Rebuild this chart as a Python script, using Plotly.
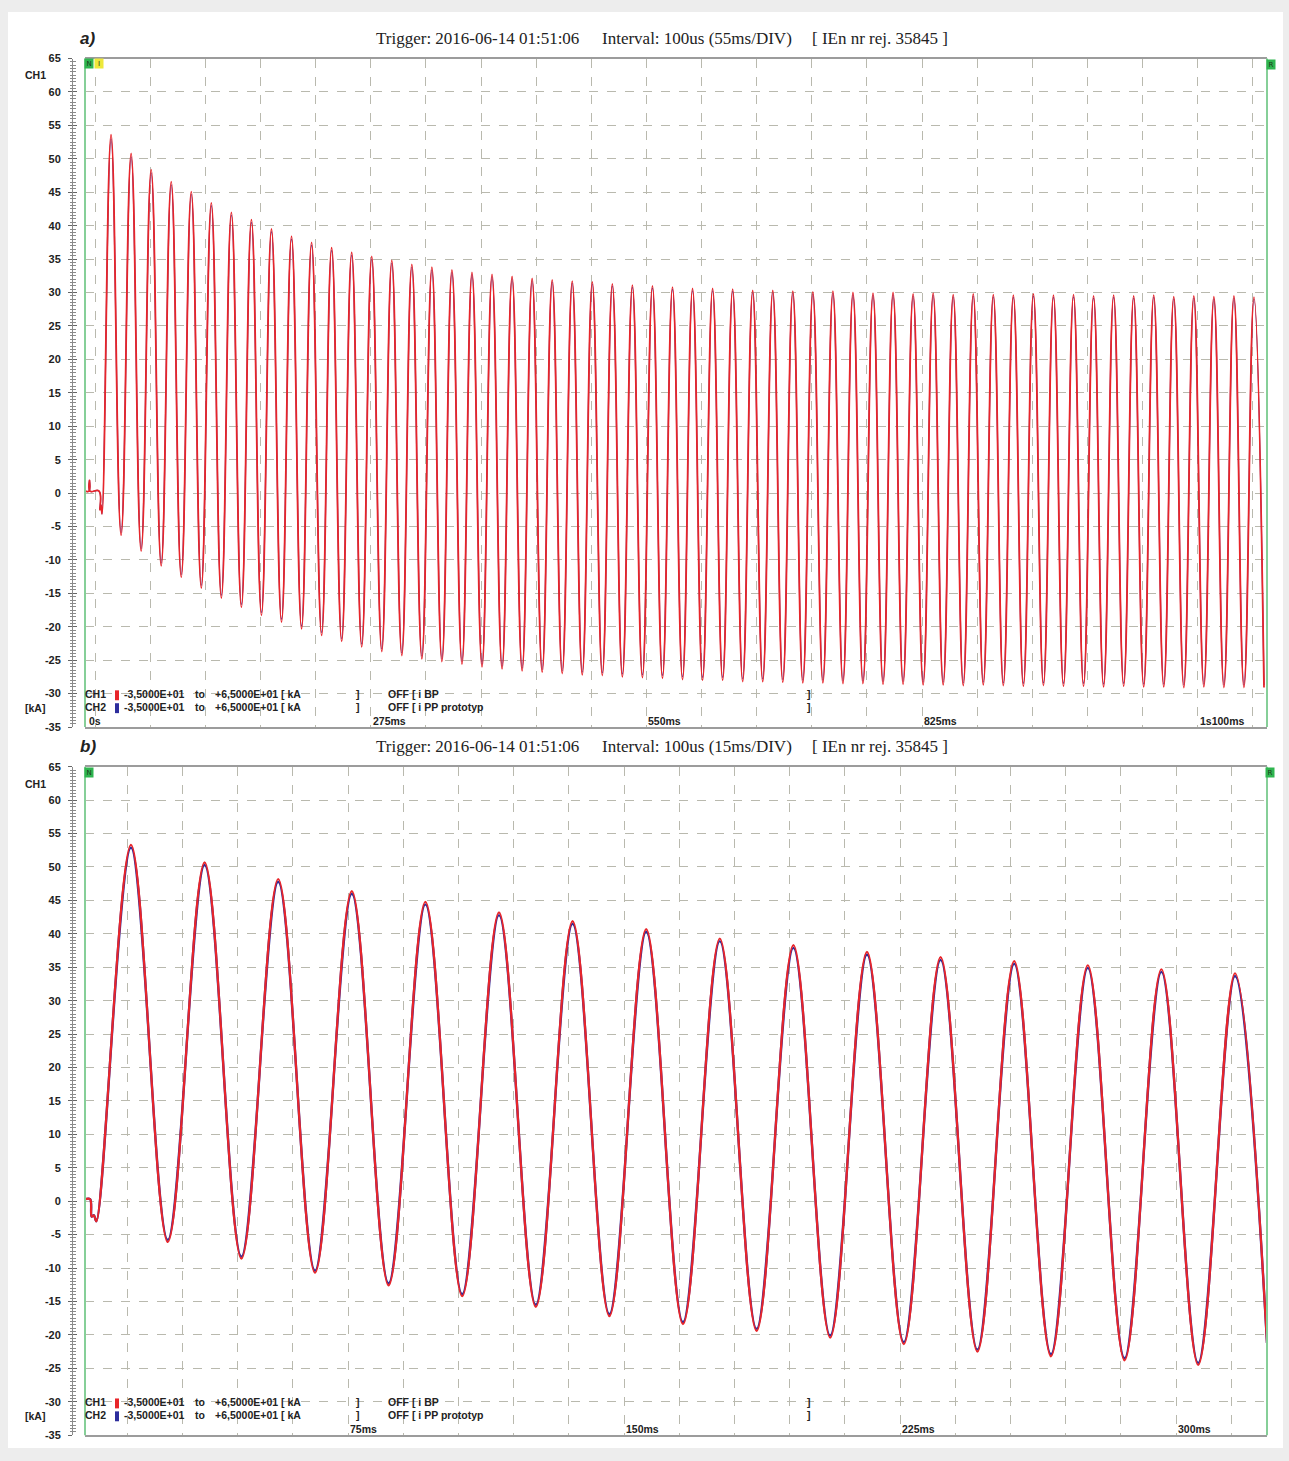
import plotly.graph_objects as go

W, H = 1289, 1461

# ---------------- data ----------------
# Panel a) 55 ms/DIV : times in ms, currents in kA
a_t_start = [-10, -6, -5.5, -5, 4, 5, 6, 7]
a_i_start = [0.3, 0.3, 1.9, 0.3, 0.3, -2.5, -1.8, -3.1]

a_t_peak = [16, 36, 56, 76, 96, 116, 136, 156, 176, 196, 216, 236, 256, 276, 296,
            316, 336, 356, 376, 396, 416, 436, 456, 476, 496, 516, 536, 556, 576, 596,
            616, 636, 656, 676, 696, 716, 736, 756, 776, 796, 816, 836, 856, 876, 896,
            916, 936, 956, 976, 996, 1016, 1036, 1056, 1076, 1096, 1116, 1136, 1156]
a_ch1_peak = [53.6, 50.8, 48.4, 46.6, 45.1, 43.4, 42.0, 40.9, 39.5, 38.4, 37.5, 36.7, 36.0, 35.4, 34.8,
              34.2, 33.8, 33.4, 33.0, 32.7, 32.4, 32.1, 31.9, 31.7, 31.6, 31.3, 31.1, 31.0, 30.8, 30.6,
              30.6, 30.5, 30.3, 30.3, 30.2, 30.1, 30.2, 30.0, 29.9, 30.0, 29.8, 29.9, 29.7, 29.8, 29.7,
              29.6, 29.8, 29.6, 29.7, 29.5, 29.6, 29.5, 29.6, 29.4, 29.5, 29.4, 29.5, 29.3]
a_ch2_peak = [53.0, 50.3, 47.9, 46.1, 44.7, 43.0, 41.6, 40.5, 39.1, 38.0, 37.1, 36.3, 35.6, 35.0, 34.4,
              33.8, 33.4, 33.0, 32.7, 32.4, 32.1, 31.8, 31.6, 31.4, 31.3, 31.0, 30.8, 30.7, 30.5, 30.3,
              30.3, 30.2, 30.0, 30.0, 29.9, 29.8, 29.9, 29.7, 29.6, 29.7, 29.5, 29.6, 29.4, 29.5, 29.4,
              29.3, 29.5, 29.3, 29.4, 29.2, 29.3, 29.2, 29.3, 29.1, 29.2, 29.1, 29.2, 29.0]

a_t_trough = [26, 46, 66, 86, 106, 126, 146, 166, 186, 206, 226, 246, 266, 286, 306,
              326, 346, 366, 386, 406, 426, 446, 466, 486, 506, 526, 546, 566, 586, 606,
              626, 646, 666, 686, 706, 726, 746, 766, 786, 806, 826, 846, 866, 886, 906,
              926, 946, 966, 986, 1006, 1026, 1046, 1066, 1086, 1106, 1126, 1146, 1166]
a_ch1_trough = [-6.3, -8.7, -10.9, -12.6, -14.2, -15.7, -17.1, -18.3, -19.3, -20.3, -21.3, -22.2, -23.0, -23.7, -24.3,
                -24.8, -25.2, -25.6, -26.0, -26.3, -26.6, -26.8, -27.0, -27.2, -27.3, -27.5, -27.6, -27.7, -27.9, -28.0,
                -28.0, -28.2, -28.2, -28.3, -28.4, -28.4, -28.5, -28.5, -28.6, -28.6, -28.7, -28.7, -28.8, -28.7, -28.8,
                -28.9, -28.8, -28.9, -28.9, -29.0, -28.9, -29.0, -29.0, -29.1, -29.0, -29.1, -29.1, -29.1]
a_ch2_trough = [-5.9, -8.3, -10.5, -12.2, -13.8, -15.3, -16.7, -17.9, -18.9, -19.9, -20.9, -21.8, -22.6, -23.3, -23.9,
                -24.4, -24.8, -25.2, -25.6, -25.9, -26.2, -26.4, -26.6, -26.8, -26.9, -27.1, -27.2, -27.3, -27.5, -27.6,
                -27.6, -27.8, -27.8, -27.9, -28.0, -28.0, -28.1, -28.1, -28.2, -28.2, -28.3, -28.3, -28.4, -28.3, -28.4,
                -28.5, -28.4, -28.5, -28.5, -28.6, -28.5, -28.6, -28.6, -28.7, -28.6, -28.7, -28.7, -28.7]

# Panel b) 15 ms/DIV
b_t_start = [3.5, 4.9, 5.3, 5.9, 6.6]
b_i_start = [0.3, 0.3, -2.3, -2.1, -3.0]
b_t_peak = [16, 36, 56, 76, 96, 116, 136, 156, 176, 196, 216, 236, 256, 276, 296, 316]
b_ch1_peak = [53.3, 50.7, 48.2, 46.4, 44.8, 43.2, 41.9, 40.7, 39.3, 38.3, 37.3, 36.5, 35.9, 35.3, 34.7, 34.1]
b_ch2_peak = [52.9, 50.3, 47.8, 46.0, 44.4, 42.8, 41.5, 40.3, 38.9, 37.9, 36.9, 36.1, 35.5, 34.9, 34.3, 33.7]
b_t_trough = [26, 46, 66, 86, 106, 126, 146, 166, 186, 206, 226, 246, 266, 286, 306]
b_ch1_trough = [-6.1, -8.6, -10.7, -12.6, -14.2, -15.8, -17.2, -18.4, -19.4, -20.4, -21.4, -22.5, -23.2, -23.8, -24.5]
b_ch2_trough = [-5.8, -8.3, -10.4, -12.3, -13.9, -15.5, -16.9, -18.1, -19.1, -20.1, -21.1, -22.2, -22.9, -23.5, -24.2]
b_t_end = [324.7]
b_i_end = [-21.2]

y_ticks = [-35, -30, -25, -20, -15, -10, -5, 0, 5, 10, 15, 20, 25, 30, 35, 40, 45, 50, 55, 60, 65]
y_tick_text = ["-35", "-30", "-25", "-20", "-15", "-10", "-5", "0", "5", "10", "15", "20", "25",
               "30", "35", "40", "45", "50", "55", "60", "65"]
a_xtick_vals = [0, 275, 550, 825, 1100]
a_xtick_text = ["0s", "275ms", "550ms", "825ms", "1s100ms"]
b_xtick_vals = [75, 150, 225, 300]
b_xtick_text = ["75ms", "150ms", "225ms", "300ms"]


def merge(*pairs):
    pts = []
    for ts, vs in pairs:
        pts.extend(zip(ts, vs))
    pts.sort(key=lambda p: p[0])
    return [p[0] for p in pts], [p[1] for p in pts]


RED = "#e8252a"
BLUE = "#2d2d9c"
BG = "#fbfbe9"
GRID = "#b9b9ae"
NARROW = "Liberation Sans Narrow, Arial Narrow, Liberation Sans, Arial, sans-serif"
SERIF = "Liberation Serif, Times New Roman, serif"


def fx(px):
    return px / W


def fy(py):
    return 1 - py / H


fig = go.Figure()

# panel a traces
for name, col, wid, pk, tr in [
    ("CH2", BLUE, 1.2, a_ch2_peak, a_ch2_trough),
    ("CH1", RED, 1.8, a_ch1_peak, a_ch1_trough),
]:
    xs, ys = merge((a_t_start, a_i_start), (a_t_peak, pk), (a_t_trough, tr))
    fig.add_trace(go.Scatter(x=xs, y=ys, mode="lines", name=name,
                             line=dict(color=col, width=wid, shape="spline", smoothing=1.3),
                             xaxis="x", yaxis="y", showlegend=False, hoverinfo="skip"))

# panel b traces
for name, col, wid, pk, tr in [
    ("CH2", BLUE, 2.4, b_ch2_peak, b_ch2_trough),
    ("CH1", RED, 2.2, b_ch1_peak, b_ch1_trough),
]:
    xs, ys = merge((b_t_start, b_i_start), (b_t_peak, pk), (b_t_trough, tr), (b_t_end, b_i_end))
    fig.add_trace(go.Scatter(x=xs, y=ys, mode="lines", name=name,
                             line=dict(color=col, width=wid, shape="spline", smoothing=1.0),
                             xaxis="x2", yaxis="y2", showlegend=False, hoverinfo="skip"))

# dummy traces so that the "inside tick" ruler axes render
fig.add_trace(go.Scatter(x=[None], y=[None], xaxis="x", yaxis="y3", showlegend=False, hoverinfo="skip"))
fig.add_trace(go.Scatter(x=[None], y=[None], xaxis="x2", yaxis="y4", showlegend=False, hoverinfo="skip"))

dom_x = [fx(85), fx(1267)]
dom_a = [fy(727), fy(53)]
dom_b = [fy(1441), fy(767)]

ytickfont = dict(family=NARROW, size=11, color="#222222", weight="bold")


def xaxis(rng, tv, minor_dtick, anchor):
    return dict(domain=dom_x, range=rng, anchor=anchor,
                tickmode="array", tickvals=tv, showticklabels=False, ticks="",
                showgrid=True, gridcolor=GRID, griddash="dash", gridwidth=1,
                minor=dict(tick0=0, dtick=minor_dtick, showgrid=True, gridcolor=GRID,
                           griddash="dash", gridwidth=1, ticks=""),
                showline=True, linecolor="#9c9c9c", linewidth=2, mirror=True,
                zeroline=False, fixedrange=True)


def yaxis(dom, overlay=None, inside=False):
    d = dict(range=[-35, 65], anchor="free", position=fx(72),
             tickmode="array", tickvals=y_ticks, ticktext=y_tick_text,
             zeroline=False, fixedrange=True,
             tickcolor="#666666", ticklen=4, tickwidth=1,
             minor=dict(dtick=0.5, tick0=0, ticklen=2.5, tickcolor="#8a8a8a", tickwidth=1,
                        ticks="inside" if inside else "outside", showgrid=False))
    if overlay:
        d.update(overlaying=overlay, ticks="inside", showticklabels=False,
                 showgrid=False, showline=False)
    else:
        d.update(domain=dom, ticks="outside", showticklabels=True, tickfont=ytickfont,
                 ticklabelstandoff=5,
                 showgrid=True, gridcolor=GRID, griddash="dash", gridwidth=1,
                 showline=True, linecolor="#8a8a8a", linewidth=1)
    return d


fig.update_layout(
    width=W, height=H,
    margin=dict(l=0, r=0, t=0, b=0),
    paper_bgcolor="#ededed",
    plot_bgcolor=BG,
    xaxis=xaxis([-10, 1169], a_xtick_vals, 55, "y"),
    xaxis2=xaxis([3.5, 324.7], b_xtick_vals, 15, "y2"),
    yaxis=yaxis(dom_a),
    yaxis2=yaxis(dom_b),
    yaxis3=yaxis(dom_a, overlay="y", inside=True),
    yaxis4=yaxis(dom_b, overlay="y2", inside=True),
)

shapes = [
    # white card on the light grey page
    dict(type="rect", xref="paper", yref="paper", x0=fx(8), x1=fx(1283), y0=fy(1454), y1=fy(6),
         fillcolor="white", line=dict(width=0), layer="below"),
]
# green left/right frame of each panel
for ya in ["y", "y2"]:
    xr = "x" if ya == "y" else "x2"
    for xv in [0, 1]:
        shapes.append(dict(type="line", xref=f"{xr} domain", yref=f"{ya} domain",
                           x0=xv, x1=xv, y0=0, y1=1, line=dict(color="#86cf98", width=2)))
# legend swatches
for (y1, y2) in [(695, 708), (1409, 1422)]:
    shapes.append(dict(type="rect", xref="paper", yref="paper", x0=fx(115), x1=fx(119),
                       y0=fy(y1 + 5), y1=fy(y1 - 5), fillcolor=RED, line=dict(width=0)))
    shapes.append(dict(type="rect", xref="paper", yref="paper", x0=fx(115), x1=fx(119),
                       y0=fy(y2 + 5), y1=fy(y2 - 5), fillcolor=BLUE, line=dict(width=0)))
fig.update_layout(shapes=shapes)

ann = []


def txt(x, y, s, size=10.5, family=NARROW, weight="bold", color="#222222", xanchor="left", style="normal"):
    ann.append(dict(x=fx(x), y=fy(y), xref="paper", yref="paper", text=s, showarrow=False,
                    xanchor=xanchor, yanchor="middle", borderpad=0,
                    font=dict(size=size, family=family, color=color, weight=weight, style=style)))


for top, lab, div in [(33, "a)", "55ms/DIV"), (747, "b)", "15ms/DIV")]:
    txt(79, top, lab, size=17, family="Liberation Sans, Arial, sans-serif", weight="bold", style="italic")
    txt(375, top, "Trigger: 2016-06-14 01:51:06", size=17, family=SERIF, weight="normal")
    txt(601, top, f"Interval: 100us ({div})", size=17, family=SERIF, weight="normal")
    txt(811, top, "[ IEn nr rej. 35845 ]", size=17, family=SERIF, weight="normal")

for ych, ykA, r1, r2 in [(70, 708, 694, 707), (784, 1422, 1408, 1421)]:
    txt(24, ych, "CH1")
    txt(24, ykA, "[kA]")
    for row, ch, off in [(r1, "CH1", "OFF [ i BP"), (r2, "CH2", "OFF [ i PP prototyp")]:
        txt(84, row, ch)
        txt(123, row, "-3,5000E+01")
        txt(194, row, "to")
        txt(214, row, "+6,5000E+01 [ kA")
        txt(355, row, "]")
        txt(387, row, off)
        txt(806, row, "]")

# time tick labels, placed through the x axes' own scales
for xr, yb, vals, texts in [("x", 721, a_xtick_vals, a_xtick_text), ("x2", 1435, b_xtick_vals, b_xtick_text)]:
    for v, s in zip(vals, texts):
        ann.append(dict(x=v, y=fy(yb), xref=xr, yref="paper", text=s, showarrow=False,
                        xanchor="left", yanchor="middle", borderpad=0,
                        xshift=-7 if s == "0s" else 1,
                        font=dict(size=10.5, family=NARROW, color="#222222", weight="bold")))


# small cursor markers
def marker(x, y, s, col):
    ann.append(dict(x=fx(x), y=fy(y), xref="paper", yref="paper", text=s, showarrow=False,
                    xanchor="center", yanchor="middle", bgcolor=col, borderpad=0, width=8, height=9,
                    font=dict(size=7, family="DejaVu Sans", color="#1b3a1b")))


marker(89, 58, "N", "#2fb54f")
marker(99, 58, "I", "#eee83a")
marker(1271, 59, "R", "#2fb54f")
marker(89, 773, "N", "#2fb54f")
marker(1270, 773, "R", "#2fb54f")

fig.update_layout(annotations=ann)
fig.write_html("out.html", config={"displayModeBar": False},
               post_script="document.body.style.margin='0px';document.body.style.overflow='hidden';")
